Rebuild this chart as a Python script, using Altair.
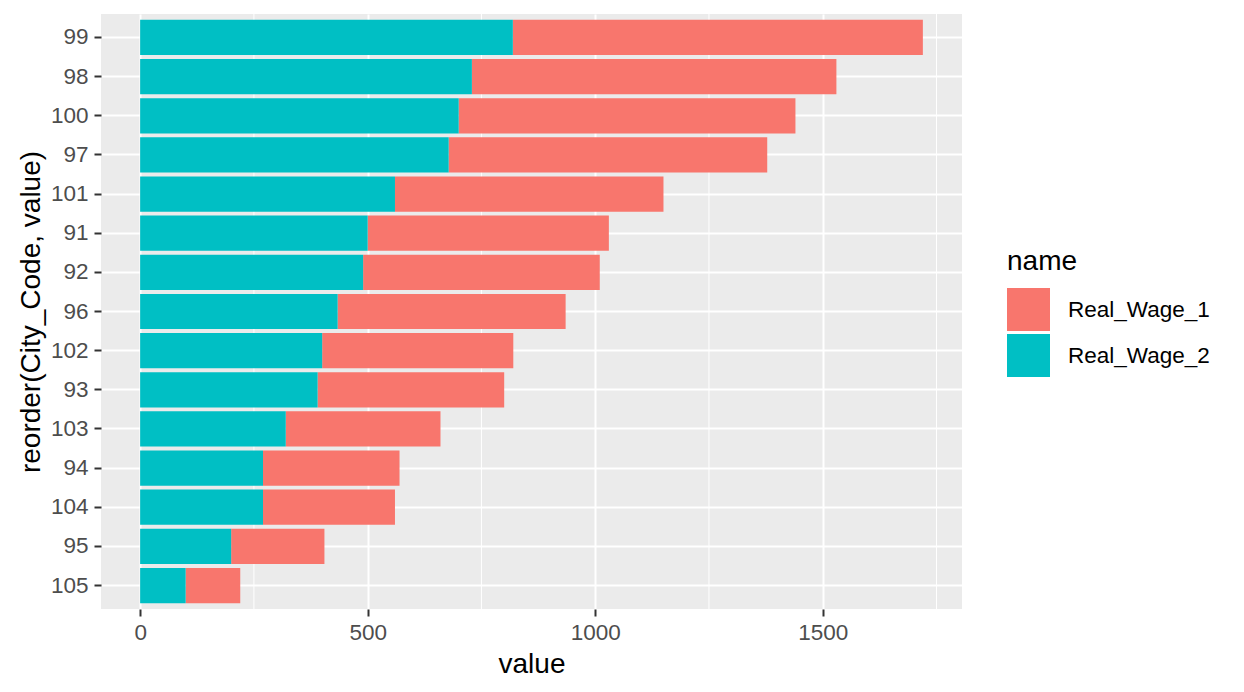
import altair as alt
import pandas as pd

# City codes in display order (top to bottom)
cities = ["99", "98", "100", "97", "101", "91", "92", "96", "102", "93", "103", "94", "104", "95", "105"]
real_wage_2 = [819, 729, 700, 678, 560, 500, 490, 434, 400, 390, 320, 270, 270, 200, 100]
real_wage_1 = [901, 801, 740, 700, 590, 530, 520, 501, 420, 410, 340, 300, 290, 205, 120]
series_names = ["Real_Wage_1", "Real_Wage_2"]
series_colors = ["#F8766D", "#00BFC4"]
major_ticks = [0, 500, 1000, 1500]
minor_ticks = [250, 750, 1250, 1750]

rows = []
for c, v1, v2 in zip(cities, real_wage_1, real_wage_2):
    rows.append({"City_Code": c, "name": "Real_Wage_1", "value": v1})
    rows.append({"City_Code": c, "name": "Real_Wage_2", "value": v2})
df = pd.DataFrame(rows)
minor_df = pd.DataFrame({"v": minor_ticks})

FONT = "Liberation Sans"
x_scale = alt.Scale(domain=[-86, 1806], nice=False, zero=False)
x_axis = alt.Axis(values=major_ticks, format="d", grid=True, gridColor="white", gridWidth=2,
                  domain=False, tickColor="#333333", tickWidth=2, tickSize=7,
                  labelFontSize=22.5, labelColor="#4D4D4D", labelFont=FONT,
                  labelBaseline="alphabetic", labelPadding=23,
                  titleFontSize=28, titleFont=FONT, titleFontWeight="normal",
                  titleColor="black", titleBaseline="alphabetic", titleY=63)

minor = alt.Chart(minor_df).mark_rule(color="white", strokeWidth=1).encode(
    x=alt.X("v:Q", scale=x_scale, title="value", axis=x_axis)
)

bars = alt.Chart(df).mark_bar().encode(
    x=alt.X("value:Q", stack="zero", scale=x_scale, title="value", axis=x_axis),
    y=alt.Y("City_Code:N", sort=cities, title="reorder(City_Code, value)",
            scale=alt.Scale(paddingInner=0.1, paddingOuter=0.15),
            axis=alt.Axis(grid=True, gridColor="white", gridWidth=2, bandPosition=0.5,
                          domain=False, tickColor="#333333", tickWidth=2, tickSize=7,
                          labelFontSize=22.5, labelColor="#4D4D4D", labelFont=FONT,
                          labelPadding=6,
                          titleFontSize=28, titleFont=FONT, titleFontWeight="normal",
                          titleColor="black", titleX=-70, titleY=297.5,
                          titleAngle=270, titleBaseline="middle", titleAlign="center")),
    color=alt.Color("name:N", scale=alt.Scale(domain=series_names, range=series_colors),
                    legend=alt.Legend(title="name", orient="none", legendX=906, legendY=234,
                                      symbolType="square", symbolSize=1849, symbolStrokeWidth=0,
                                      symbolOpacity=1,
                                      labelFontSize=22.5, labelFont=FONT, labelColor="black",
                                      labelOffset=18, rowPadding=3,
                                      titleFontSize=28, titleFont=FONT, titleFontWeight="normal",
                                      titleColor="black", titlePadding=12, padding=0)),
    order=alt.Order("name:N", sort="descending"),
)

chart = alt.layer(minor, bars).properties(
    width=861, height=595,
    autosize=alt.AutoSizeParams(type="none"),
    padding={"left": 93, "top": 6, "right": 260, "bottom": 74},
).configure_view(fill="#EBEBEB", stroke=None)

chart.save("out.html", embed_options={"renderer": "svg", "actions": False})
